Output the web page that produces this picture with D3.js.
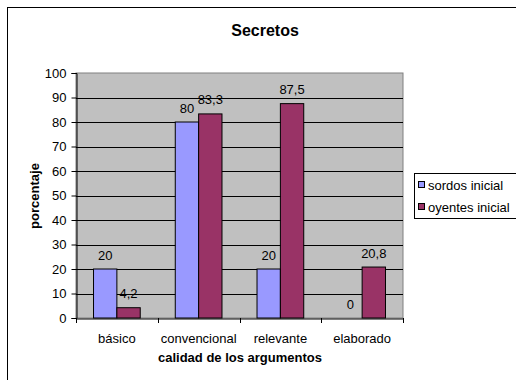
<!DOCTYPE html>
<html>
<head>
<meta charset="utf-8">
<script src="https://cdn.jsdelivr.net/npm/d3@7"></script>
<style>
  html, body { margin: 0; padding: 0; background: #fff; }
  svg { display: block; font-family: "Liberation Sans", Arial, sans-serif; }
</style>
</head>
<body>
<svg id="chart" width="516" height="380"></svg>
<script>
// Categories, series and values
const categories = ["básico", "convencional", "relevante", "elaborado"];
const seriesNames = ["sordos inicial", "oyentes inicial"];
const sordos = [20, 80, 20, 0];
const oyentes = [4.2, 83.3, 87.5, 20.8];
const yTicks = [0, 10, 20, 30, 40, 50, 60, 70, 80, 90, 100];
const colors = ["#9999FF", "#993366"];

const seriesValues = [sordos, oyentes];
const svg = d3.select("#chart");
const FONT = "'Liberation Sans', Arial, sans-serif";

// Outer chart frame
svg.append("rect")
  .attr("x", 7.5).attr("y", 7.5)
  .attr("width", 600).attr("height", 400)
  .attr("fill", "#fff").attr("stroke", "#000").attr("stroke-width", 1);

const plot = { left: 76, right: 403, top: 73, bottom: 318 };

const y = d3.scaleLinear().domain([0, 100]).range([plot.bottom, plot.top]);
const x0 = d3.scaleBand().domain(categories).range([plot.left, plot.right]).padding(0);
const x1 = d3.scaleBand().domain(d3.range(seriesNames.length))
  .range([0, x0.bandwidth()]).paddingInner(0).paddingOuter(0.75);

// Plot area background
svg.append("rect")
  .attr("x", plot.left).attr("y", plot.top)
  .attr("width", plot.right - plot.left).attr("height", plot.bottom - plot.top)
  .attr("fill", "#C0C0C0").attr("stroke", "#808080").attr("stroke-width", 1);

// Horizontal gridlines
svg.append("g").selectAll("line")
  .data(yTicks.filter(t => t > 0 && t < 100))
  .join("line")
  .attr("x1", plot.left).attr("x2", plot.right)
  .attr("y1", d => Math.round(y(d)) + 0.5).attr("y2", d => Math.round(y(d)) + 0.5)
  .attr("stroke", "#000").attr("stroke-width", 1);

// Y axis
const yAxis = svg.append("g")
  .attr("transform", `translate(${plot.left + 0.5},0)`)
  .call(d3.axisLeft(y).tickValues(yTicks).tickSize(5).tickPadding(5).tickFormat(d3.format("d")));
yAxis.select(".domain").attr("stroke", "#000");
yAxis.selectAll(".tick line").attr("stroke", "#000");
yAxis.selectAll("text").attr("font-size", 13).attr("fill", "#000").attr("font-family", FONT);

// X axis
const xAxis = svg.append("g")
  .attr("transform", `translate(0,${plot.bottom + 0.5})`)
  .call(d3.axisBottom(x0).tickSize(0).tickPadding(15));
xAxis.select(".domain").attr("stroke", "#000");
xAxis.selectAll("text").attr("font-size", 13).attr("fill", "#000").attr("font-family", FONT);
// Tick marks between categories
svg.append("g").selectAll("line")
  .data(d3.range(categories.length + 1))
  .join("line")
  .attr("x1", i => Math.round(plot.left + i * x0.step()) + 0.5)
  .attr("x2", i => Math.round(plot.left + i * x0.step()) + 0.5)
  .attr("y1", plot.bottom).attr("y2", plot.bottom + 5)
  .attr("stroke", "#000");

// Bars
const groups = svg.append("g").selectAll("g")
  .data(categories)
  .join("g")
  .attr("transform", d => `translate(${x0(d)},0)`);

groups.selectAll("rect")
  .data((c, ci) => seriesValues.map((vals, si) => ({ si, v: vals[ci] })))
  .join("rect")
  .attr("x", d => x1(d.si))
  .attr("y", d => y(d.v))
  .attr("width", x1.bandwidth())
  .attr("height", d => y(0) - y(d.v))
  .attr("fill", d => colors[d.si])
  .attr("stroke", "#000").attr("stroke-width", 1);

// Value labels
const fmt = v => String(v).replace(".", ",");
groups.selectAll("text")
  .data((c, ci) => seriesValues.map((vals, si) => ({ si, v: vals[ci] })))
  .join("text")
  .attr("x", d => x1(d.si) + x1.bandwidth() / 2)
  .attr("y", d => y(d.v) - 9.5)
  .attr("text-anchor", "middle")
  .attr("font-size", 13)
  .attr("fill", "#000")
  .text(d => fmt(d.v));

// Title
svg.append("text")
  .attr("x", 265).attr("y", 36)
  .attr("text-anchor", "middle")
  .attr("font-size", 16).attr("font-weight", "bold")
  .text("Secretos");

// Axis titles
svg.append("text")
  .attr("transform", "translate(39,196) rotate(-90)")
  .attr("text-anchor", "middle")
  .attr("font-size", 13).attr("font-weight", "bold")
  .text("porcentaje");

svg.append("text")
  .attr("x", 240).attr("y", 362)
  .attr("text-anchor", "middle")
  .attr("font-size", 13).attr("font-weight", "bold")
  .text("calidad de los argumentos");

// Legend
const legend = svg.append("g");
legend.append("rect")
  .attr("x", 414.5).attr("y", 173.5)
  .attr("width", 120).attr("height", 45)
  .attr("fill", "#fff").attr("stroke", "#000");
const items = legend.selectAll("g")
  .data(seriesNames)
  .join("g")
  .attr("transform", (d, i) => `translate(418,${185 + i * 22})`);
items.append("rect")
  .attr("x", 0.5).attr("y", -3.5)
  .attr("width", 6).attr("height", 6)
  .attr("fill", (d, i) => colors[i]).attr("stroke", "#000");
items.append("text")
  .attr("x", 10).attr("y", 4.5)
  .attr("font-size", 13)
  .text(d => d);
</script>
</body>
</html>
